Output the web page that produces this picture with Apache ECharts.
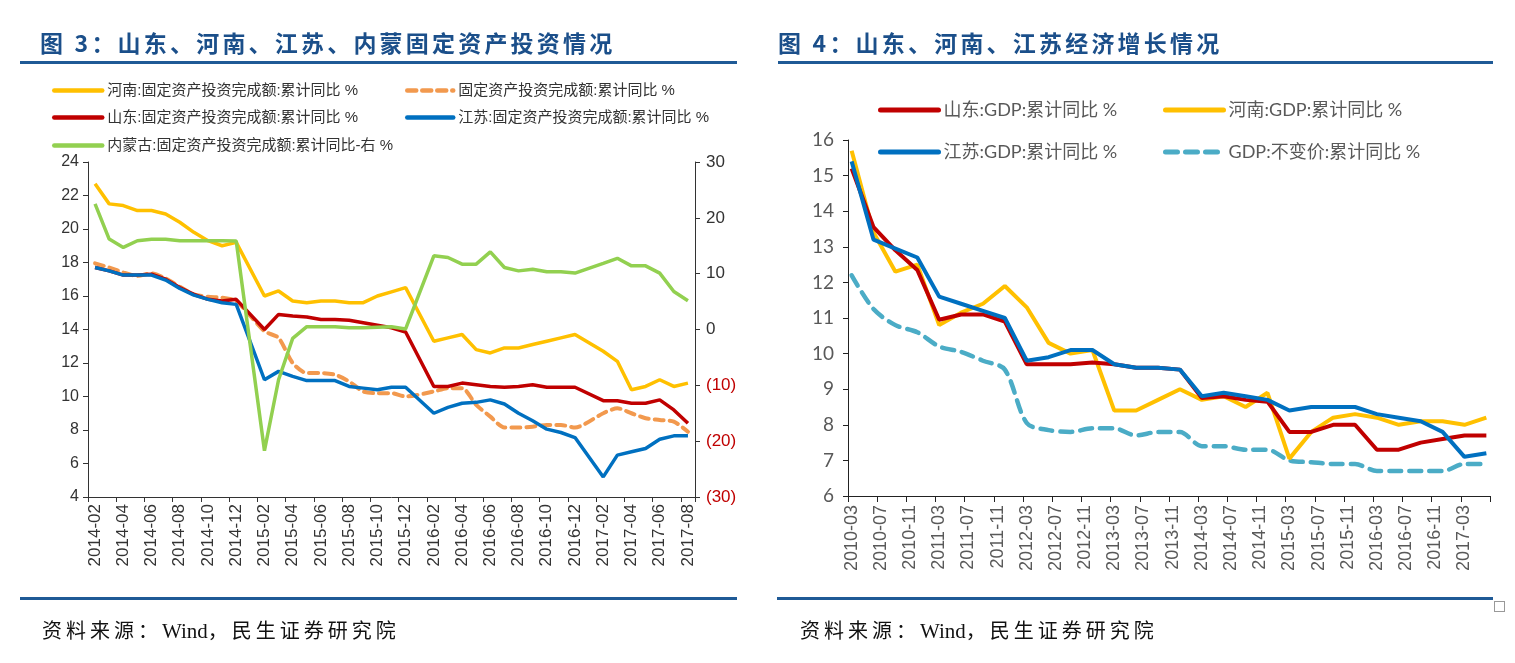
<!DOCTYPE html>
<html>
<head>
<meta charset="utf-8">
<script src="https://cdn.jsdelivr.net/npm/echarts@6/dist/echarts.min.js"></script>
<style>
html,body{margin:0;padding:0;background:#fff;}
#wrap{position:relative;width:1515px;height:663px;overflow:hidden;background:#fff;}
#chart{position:absolute;left:0;top:0;width:1515px;height:663px;}
.title{position:absolute;font-family:"Noto Sans CJK SC",sans-serif;font-weight:bold;font-size:23px;letter-spacing:3.2px;color:#1B4F8A;white-space:nowrap;line-height:1;z-index:2;}
.rule{position:absolute;height:3px;background:#1F5A96;z-index:2;}
.src{position:absolute;font-family:"Liberation Serif","Noto Sans CJK SC",serif;font-size:20px;letter-spacing:4px;color:#111;white-space:nowrap;line-height:1;z-index:2;}
.src .lat{letter-spacing:0;font-size:21px;}
.sq{position:absolute;left:1494px;top:601px;width:9px;height:9px;border:1px solid #999;z-index:2;}
</style>
</head>
<body>
<div id="wrap">
  <div id="chart"></div>
  <div class="title" style="left:40px;top:31px;">图 3：山东、河南、江苏、内蒙固定资产投资情况</div>
  <div class="title" style="left:778px;top:31px;">图 4：山东、河南、江苏经济增长情况</div>
  <div class="rule" style="left:20px;top:61px;width:717px;"></div>
  <div class="rule" style="left:778px;top:61px;width:715px;"></div>
  <div class="rule" style="left:20px;top:597px;width:717px;"></div>
  <div class="rule" style="left:777px;top:597px;width:716px;"></div>
  <div class="src" style="left:42px;top:621px;">资料来源：<span class="lat">Wind</span>，民生证券研究院</div>
  <div class="src" style="left:800px;top:621px;">资料来源：<span class="lat">Wind</span>，民生证券研究院</div>
  <div class="sq"></div>
</div>
<script>
// ---------- Figure 3: fixed-asset investment (monthly, no January data) ----------
const faiAxisMonths = [
  '2014-02','2014-03','2014-04','2014-05','2014-06','2014-07','2014-08','2014-09','2014-10','2014-11','2014-12',
  '2015-01','2015-02','2015-03','2015-04','2015-05','2015-06','2015-07','2015-08','2015-09','2015-10','2015-11','2015-12',
  '2016-01','2016-02','2016-03','2016-04','2016-05','2016-06','2016-07','2016-08','2016-09','2016-10','2016-11','2016-12',
  '2017-01','2017-02','2017-03','2017-04','2017-05','2017-06','2017-07','2017-08'
];
const faiDates = [
  '2014-02','2014-03','2014-04','2014-05','2014-06','2014-07','2014-08','2014-09','2014-10','2014-11','2014-12',
  '2015-02','2015-03','2015-04','2015-05','2015-06','2015-07','2015-08','2015-09','2015-10','2015-11','2015-12',
  '2016-02','2016-03','2016-04','2016-05','2016-06','2016-07','2016-08','2016-09','2016-10','2016-11','2016-12',
  '2017-02','2017-03','2017-04','2017-05','2017-06','2017-07','2017-08'
];
const henanFAI = [22.7,21.5,21.4,21.1,21.1,20.9,20.4,19.8,19.3,19.0,19.2,
  16.0,16.3,15.7,15.6,15.7,15.7,15.6,15.6,16.0,16.25,16.5,
  13.3,13.5,13.7,12.8,12.6,12.9,12.9,13.1,13.3,13.5,13.7,
  12.7,12.1,10.4,10.6,11.0,10.6,10.8];
const nationalFAI = [17.95,17.7,17.4,17.2,17.35,17.05,16.55,16.1,15.95,15.9,15.7,
  13.9,13.5,12.0,11.4,11.4,11.3,10.9,10.3,10.2,10.2,10.0,
  10.3,10.5,10.5,9.5,8.8,8.15,8.15,8.2,8.3,8.3,8.15,
  9.0,9.3,9.0,8.7,8.6,8.5,7.9];
const shandongFAI = [17.7,17.5,17.25,17.25,17.3,17.0,16.5,16.1,15.8,15.7,15.8,
  14.0,14.9,14.8,14.75,14.6,14.6,14.55,14.4,14.25,14.1,13.85,
  10.6,10.6,10.8,10.7,10.6,10.55,10.6,10.7,10.55,10.55,10.55,
  9.75,9.75,9.6,9.6,9.8,9.2,8.4];
const jiangsuFAI = [17.7,17.5,17.25,17.25,17.25,16.95,16.45,16.05,15.8,15.6,15.5,
  11.0,11.5,11.2,10.95,10.95,10.95,10.6,10.5,10.4,10.55,10.55,
  9.0,9.35,9.6,9.65,9.8,9.55,9.0,8.55,8.05,7.85,7.55,
  5.2,6.5,6.7,6.9,7.45,7.65,7.65];
const neimengFAI = [22.5,16.2,14.7,15.9,16.15,16.15,15.9,15.9,15.9,15.9,15.85,
  -21.7,-9.0,-1.6,0.5,0.5,0.5,0.3,0.3,0.4,0.5,0.1,
  13.2,12.9,11.7,11.7,13.9,11.1,10.5,10.8,10.35,10.35,10.1,
  11.85,12.75,11.4,11.4,10.1,6.8,5.15];

// ---------- Figure 4: GDP (quarterly points on a monthly axis) ----------
const gdpAxisMonths = [
  '2010-03','2010-04','2010-05','2010-06','2010-07','2010-08','2010-09','2010-10','2010-11','2010-12',
  '2011-01','2011-02','2011-03','2011-04','2011-05','2011-06','2011-07','2011-08','2011-09','2011-10','2011-11','2011-12',
  '2012-01','2012-02','2012-03','2012-04','2012-05','2012-06','2012-07','2012-08','2012-09','2012-10','2012-11','2012-12',
  '2013-01','2013-02','2013-03','2013-04','2013-05','2013-06','2013-07','2013-08','2013-09','2013-10','2013-11','2013-12',
  '2014-01','2014-02','2014-03','2014-04','2014-05','2014-06','2014-07','2014-08','2014-09','2014-10','2014-11','2014-12',
  '2015-01','2015-02','2015-03','2015-04','2015-05','2015-06','2015-07','2015-08','2015-09','2015-10','2015-11','2015-12',
  '2016-01','2016-02','2016-03','2016-04','2016-05','2016-06','2016-07','2016-08','2016-09','2016-10','2016-11','2016-12',
  '2017-01','2017-02','2017-03','2017-04','2017-05','2017-06'
];
const gdpQuarters = [
  '2010-03','2010-06','2010-09','2010-12','2011-03','2011-06','2011-09','2011-12',
  '2012-03','2012-06','2012-09','2012-12','2013-03','2013-06','2013-09','2013-12',
  '2014-03','2014-06','2014-09','2014-12','2015-03','2015-06','2015-09','2015-12',
  '2016-03','2016-06','2016-09','2016-12','2017-03','2017-06'
];
const shandongGDP = [15.2,13.55,12.9,12.35, 10.95,11.1,11.1,10.9, 9.7,9.7,9.7,9.75, 9.7,9.6,9.6,9.55,
  8.75,8.8,8.7,8.65, 7.8,7.8,8.0,8.0, 7.3,7.3,7.5,7.6, 7.7,7.7];
const henanGDP = [15.7,13.4,12.3,12.5, 10.8,11.15,11.4,11.9, 11.3,10.3,10.0,10.1, 8.4,8.4,8.7,9.0,
  8.7,8.8,8.5,8.9, 7.05,7.8,8.2,8.3, 8.2,8.0,8.1,8.1, 8.0,8.2];
const jiangsuGDP = [15.4,13.2,12.95,12.7, 11.6,11.4,11.2,11.0, 9.8,9.9,10.1,10.1, 9.7,9.6,9.6,9.55,
  8.8,8.9,8.8,8.7, 8.4,8.5,8.5,8.5, 8.3,8.2,8.1,7.8, 7.1,7.2];
const nationalGDP = [12.2,11.25,10.8,10.6, 10.2,10.05,9.8,9.55, 8.05,7.85,7.8,7.9, 7.9,7.7,7.8,7.8,
  7.4,7.4,7.3,7.3, 7.0,6.95,6.9,6.9, 6.7,6.7,6.7,6.7, 6.9,6.9];

const pairs = (dates, vals) => dates.map((d, i) => [d, vals[i]]);

const C_YEL = '#FFC000', C_RED = '#C00000', C_BLUE = '#0070C0', C_ORG = '#F2994E', C_GRN = '#92D050', C_TEAL = '#4BACC6';
const axisColL = '#333333', axisColR = '#222222';
const lblL = '#333333', lblR = '#595959';
const fontL = '"Liberation Sans","Noto Sans CJK SC",sans-serif';
const fontR = 'Lato,"Noto Sans CJK SC",sans-serif';

const leftLegendText = {fontSize: 15, color: '#333', fontFamily: fontL};
const rightLegendText = {fontSize: 18, color: '#595959', fontFamily: fontR};
function lg(name, left, top, w, h, ts, lw) {
  return {data: [name], left: left, top: top, itemWidth: w, itemHeight: h, padding: 0,
    textStyle: ts, selectedMode: false, itemStyle: {opacity: 0},
    lineStyle: {width: lw, cap: 'round'}};
}

const N = {
  hnF: '河南:固定资产投资完成额:累计同比 %',
  natF: '固定资产投资完成额:累计同比 %',
  sdF: '山东:固定资产投资完成额:累计同比 %',
  jsF: '江苏:固定资产投资完成额:累计同比 %',
  nmF: '内蒙古:固定资产投资完成额:累计同比-右 %',
  sdG: '山东:GDP:累计同比 %',
  hnG: '河南:GDP:累计同比 %',
  jsG: '江苏:GDP:累计同比 %',
  natG: 'GDP:不变价:累计同比 %'
};

const chart = echarts.init(document.getElementById('chart'), null, {renderer: 'canvas'});
const option = {
  backgroundColor: '#ffffff',
  animation: false,
  legend: [
    lg(N.hnF, 52, 83, 48, 14, leftLegendText, 4.5),
    lg(N.natF, 405, 83, 46, 14, leftLegendText, 4.5),
    lg(N.sdF, 52, 110, 48, 14, leftLegendText, 4.5),
    lg(N.jsF, 405, 110, 46, 14, leftLegendText, 4.5),
    lg(N.nmF, 52, 138, 48, 14, leftLegendText, 4.5),
    lg(N.sdG, 878, 101, 58, 14, rightLegendText, 5),
    lg(N.hnG, 1163, 101, 58, 14, rightLegendText, 5),
    lg(N.jsG, 878, 143, 58, 14, rightLegendText, 5),
    lg(N.natG, 1163, 143, 58, 14, rightLegendText, 5)
  ],
  grid: [
    {left: 88, right: 820, top: 162, bottom: 166},
    {left: 848, right: 25, top: 140, bottom: 167}
  ],
  xAxis: [
    {
      type: 'category', gridIndex: 0, data: faiAxisMonths, boundaryGap: true,
      axisLine: {show: true, onZero: false, lineStyle: {color: axisColL, width: 1}},
      axisTick: {show: true, interval: 1, length: 5, lineStyle: {color: axisColL}},
      axisLabel: {interval: 1, rotate: 90, fontSize: 17, fontFamily: fontL, color: lblL, margin: 7},
      splitLine: {show: false}
    },
    {
      type: 'category', gridIndex: 1, data: gdpAxisMonths, boundaryGap: true,
      axisLine: {show: true, onZero: false, lineStyle: {color: axisColR, width: 1}},
      axisTick: {show: true, interval: 3, length: 6, lineStyle: {color: axisColR}},
      axisLabel: {interval: 3, rotate: 90, fontSize: 18, fontFamily: fontL, color: lblR, margin: 9},
      splitLine: {show: false}
    }
  ],
  yAxis: [
    {
      type: 'value', gridIndex: 0, min: 4, max: 24, interval: 2,
      axisLine: {show: true, lineStyle: {color: axisColL, width: 1}},
      axisTick: {show: true, length: 5, lineStyle: {color: axisColL}},
      axisLabel: {fontSize: 16, fontFamily: fontL, color: lblL, margin: 9},
      splitLine: {show: false}
    },
    {
      type: 'value', gridIndex: 0, position: 'right', min: -30, max: 30, interval: 10,
      axisLine: {show: true, lineStyle: {color: axisColL, width: 1}},
      axisTick: {show: true, length: 5, lineStyle: {color: axisColL}},
      axisLabel: {
        margin: 11,
        formatter: v => v < 0 ? '{neg|(' + (-v) + ')}' : '{pos|' + v + '}',
        rich: {
          neg: {color: '#C00000', fontSize: 17, fontFamily: fontL},
          pos: {color: lblL, fontSize: 17, fontFamily: fontL}
        }
      },
      splitLine: {show: false}
    },
    {
      type: 'value', gridIndex: 1, min: 6, max: 16, interval: 1,
      axisLine: {show: true, lineStyle: {color: axisColR, width: 1}},
      axisTick: {show: true, length: 5, lineStyle: {color: axisColR}},
      axisLabel: {fontSize: 19, fontFamily: fontR, color: lblR, margin: 14},
      splitLine: {show: false}
    }
  ],
  series: [
    {name: N.hnF, type: 'line', xAxisIndex: 0, yAxisIndex: 0, data: pairs(faiDates, henanFAI),
      symbol: 'none', lineStyle: {color: C_YEL, width: 3.5}, itemStyle: {color: C_YEL}},
    {name: N.natF, type: 'line', xAxisIndex: 0, yAxisIndex: 0, data: pairs(faiDates, nationalFAI),
      symbol: 'none', smooth: 0.25, lineStyle: {color: C_ORG, width: 4, type: [9, 6], cap: 'round'}, itemStyle: {color: C_ORG}},
    {name: N.sdF, type: 'line', xAxisIndex: 0, yAxisIndex: 0, data: pairs(faiDates, shandongFAI),
      symbol: 'none', lineStyle: {color: C_RED, width: 3.5}, itemStyle: {color: C_RED}},
    {name: N.jsF, type: 'line', xAxisIndex: 0, yAxisIndex: 0, data: pairs(faiDates, jiangsuFAI),
      symbol: 'none', lineStyle: {color: C_BLUE, width: 3.5}, itemStyle: {color: C_BLUE}},
    {name: N.nmF, type: 'line', xAxisIndex: 0, yAxisIndex: 1, data: pairs(faiDates, neimengFAI),
      symbol: 'none', lineStyle: {color: C_GRN, width: 3.5}, itemStyle: {color: C_GRN}},

    {name: N.natG, type: 'line', xAxisIndex: 1, yAxisIndex: 2, data: pairs(gdpQuarters, nationalGDP),
      symbol: 'none', smooth: 0.3, lineStyle: {color: C_TEAL, width: 4.5, type: [12, 8], cap: 'round'}, itemStyle: {color: C_TEAL}},
    {name: N.hnG, type: 'line', xAxisIndex: 1, yAxisIndex: 2, data: pairs(gdpQuarters, henanGDP),
      symbol: 'none', lineStyle: {color: C_YEL, width: 4}, itemStyle: {color: C_YEL}},
    {name: N.sdG, type: 'line', xAxisIndex: 1, yAxisIndex: 2, data: pairs(gdpQuarters, shandongGDP),
      symbol: 'none', lineStyle: {color: C_RED, width: 4}, itemStyle: {color: C_RED}},
    {name: N.jsG, type: 'line', xAxisIndex: 1, yAxisIndex: 2, data: pairs(gdpQuarters, jiangsuGDP),
      symbol: 'none', lineStyle: {color: C_BLUE, width: 4}, itemStyle: {color: C_BLUE}}
  ]
};
chart.setOption(option);
</script>
</body>
</html>
